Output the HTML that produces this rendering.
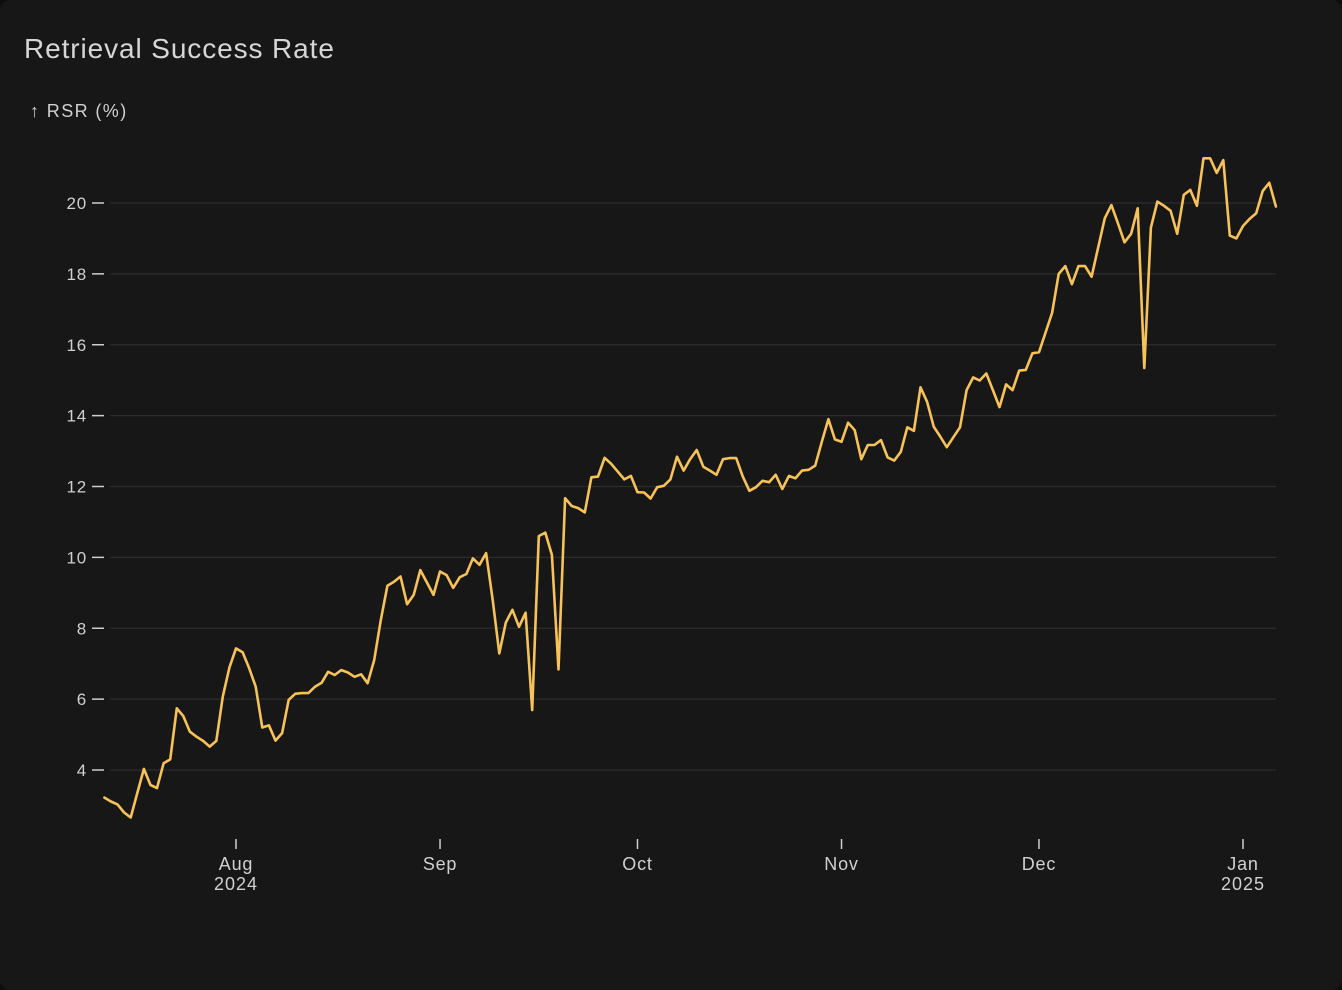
<!DOCTYPE html>
<html><head><meta charset="utf-8"><style>
html,body{margin:0;padding:0;background:#0e0e0e;}
#card{position:absolute;left:0;top:0;width:1342px;height:990px;background:#171717;border-radius:10px;overflow:hidden;font-family:"Liberation Sans",sans-serif;}
#title{position:absolute;left:24px;top:33px;font-size:28px;letter-spacing:0.9px;color:#d6d6d6;font-weight:500;}
svg{position:absolute;left:0;top:0;}
</style></head><body>
<div id="card">
<div id="title">Retrieval Success Rate</div>
<svg id="chart" width="1342" height="990"></svg>
</div>
<script>
const startDate = "2024-07-12";
const rsrValues = [3.22,3.11,3.03,2.80,2.66,3.35,4.03,3.58,3.49,4.19,4.30,5.74,5.52,5.08,4.94,4.82,4.66,4.82,6.07,6.89,
7.43,7.32,6.87,6.35,5.20,5.26,4.83,5.04,5.98,6.15,6.17,6.17,6.35,6.46,6.77,6.68,6.82,6.75,6.63,6.70,
6.45,7.10,8.23,9.20,9.31,9.46,8.68,8.94,9.64,9.29,8.94,9.60,9.50,9.14,9.44,9.53,9.97,9.79,10.12,8.80,
7.29,8.16,8.52,8.04,8.44,5.69,10.60,10.70,10.07,6.84,11.67,11.45,11.39,11.27,12.26,12.28,12.81,12.64,12.42,12.20,
12.30,11.84,11.83,11.66,11.98,12.02,12.20,12.84,12.45,12.77,13.03,12.56,12.45,12.33,12.77,12.80,12.80,12.28,11.88,11.98,
12.16,12.12,12.33,11.93,12.30,12.23,12.45,12.47,12.59,13.26,13.90,13.33,13.26,13.80,13.59,12.77,13.17,13.17,13.31,12.82,
12.73,12.98,13.67,13.57,14.80,14.39,13.69,13.41,13.11,13.39,13.67,14.72,15.08,14.99,15.19,14.72,14.24,14.88,14.72,15.27,
15.29,15.76,15.79,16.34,16.90,18.00,18.22,17.71,18.22,18.22,17.92,18.75,19.57,19.94,19.43,18.89,19.13,19.85,15.34,19.31,
20.04,19.92,19.78,19.13,20.23,20.37,19.92,21.26,21.26,20.85,21.21,19.08,19.00,19.35,19.55,19.71,20.34,20.57,19.90];
const yTicks = [4,6,8,10,12,14,16,18,20];
const xTickDates = ["2024-08-01","2024-09-01","2024-10-01","2024-11-01","2024-12-01","2025-01-01"];
const xTickLabels = ["Aug","Sep","Oct","Nov","Dec","Jan"];
const xTickYears = ["2024","","","","","2025"];

const NS="http://www.w3.org/2000/svg";
const svg=document.getElementById('chart');
const DAY=86400000;
const t0=Date.parse("2024-08-01"), t1=Date.parse("2025-01-01");
function xScale(ms){return 236+(ms-t0)/(t1-t0)*(1243-236);}
function yScale(v){return 203+(20-v)*(770-203)/16;}
function mk(tag,attrs){const e=document.createElementNS(NS,tag);for(const k in attrs)e.setAttribute(k,attrs[k]);svg.appendChild(e);return e;}

yTicks.forEach(v=>{
  const y=yScale(v);
  const g=mk('line',{x1:110,x2:1276,y1:y,y2:y,stroke:'#2d2d2d','stroke-width':1.3});
  
  
  const tk=mk('line',{x1:92,x2:104,y1:y,y2:y,stroke:'#cfcfcf','stroke-width':1.5});
  
  
  const t=mk('text',{x:87,y:y+6,'text-anchor':'end','font-size':17,'letter-spacing':0.8,fill:'#d0d0d0','font-family':'Liberation Sans, sans-serif'});
  t.textContent=v;
  
  
});
const yt=mk('text',{x:30,y:117,'font-size':18,'letter-spacing':1.4,fill:'#d0d0d0','font-family':'Liberation Sans, DejaVu Sans, sans-serif'});
yt.textContent='↑ RSR (%)';



xTickDates.forEach((d,i)=>{
  const x=xScale(Date.parse(d));
  const tk=mk('line',{x1:x,x2:x,y1:839,y2:849,stroke:'#cfcfcf','stroke-width':1.5});
  
  
  const t=mk('text',{x:x,y:870,'text-anchor':'middle','font-size':18,'letter-spacing':0.8,fill:'#d0d0d0','font-family':'Liberation Sans, sans-serif'});
  t.textContent=xTickLabels[i];
  
  
  if(xTickYears[i]){
    const ty=mk('text',{x:x,y:890,'text-anchor':'middle','font-size':18,'letter-spacing':1,fill:'#d0d0d0','font-family':'Liberation Sans, sans-serif'});
    ty.textContent=xTickYears[i];
    
    
  }
});

const s0=Date.parse(startDate);
const pts=rsrValues.map((v,i)=>xScale(s0+i*DAY).toFixed(1)+','+yScale(v).toFixed(1));
const line=mk('polyline',{points:pts.join(' '),fill:'none',stroke:'#f7c25a','stroke-width':2.6,'stroke-linejoin':'round','stroke-linecap':'round'});


</script>
</body></html>
